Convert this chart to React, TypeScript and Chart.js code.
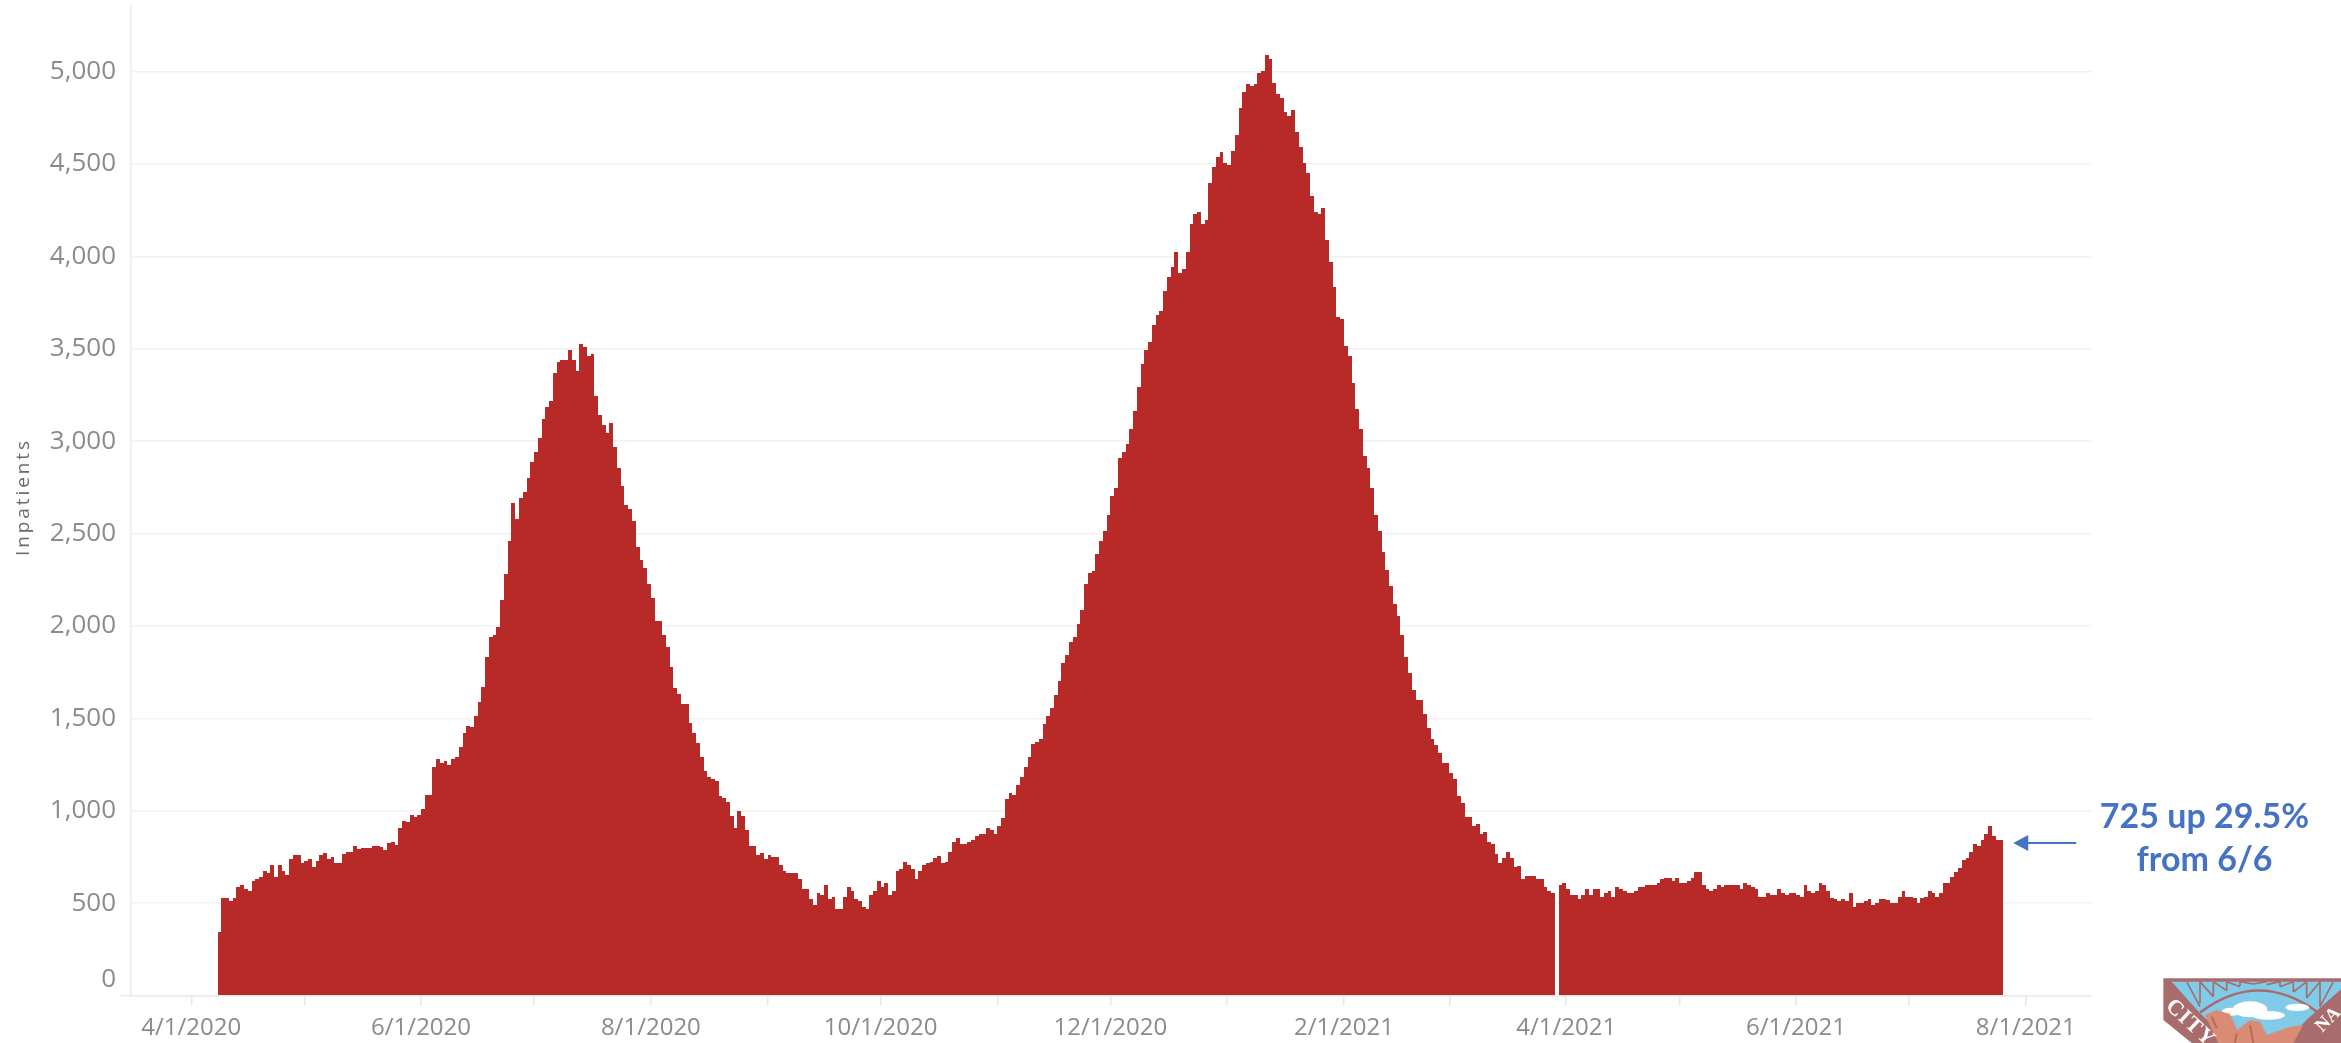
import React, { useEffect, useRef } from "react";
import { Chart, registerables } from "chart.js";

Chart.register(...registerables);

const FIRST_BAR_DAY = 7; // days after 4/1/2020

const springPlateau = [342,526,526,510,526,585,596,578,567,618,629,640,672,661,705,640,705,672,650,737,759,759,715,726,737,694,726,759,770,737,748,715,715,765,776,776,809,791,798,798,798,809,809,803,787,824,830,815,905,946,939,978,967,978,1011,1087,1087];
const summerRise = [1235,1278,1260,1267,1247,1278,1289,1343,1419,1460,1451,1512,1586,1671,1833,1938,1949,1992,2140,2279,2461,2663,2577,2694,2726,2802,2885,2939,3015,3119,3184,3217,3367,3430,3441,3441];
const summerFall = [3493,3441,3378,3525,3508,3462,3473,3246,3141,3087,3046,3098,2970,2854,2759,2652,2631,2566,2429,2355,2311,2227,2149,2025,2025,1949,1886,1779,1662,1630,1577,1577,1473,1419,1365,1289,1215,1184,1173,1161,1078,1067,1045,970,906,1000,970,896,811,811];
const autumnTrough = [759,770,737,759,748,748,705,672,661,661,661,629,576,576,524,491,555,544,598,524,535,470,470,533,587,565,524,513,480,470,544,565,620,587,607,544,565,672,683,724,705,683,629,672,705,715,724,746,756,715,724,778,830,852,821,821,830,841,863,874,874,906,896,874,917,959];
const winterRise = [1063,1097,1087,1139,1184,1235,1289,1363,1374,1386,1469,1512,1556,1628,1703,1799,1843,1915,1938,2012,2088,2225,2288,2299,2387,2461,2514,2598,2705,2748,2907,2939,2983,3067,3163,3291,3419,3493,3536,3630,3684,3706,3812,3886,3940,4025,3908,3930,4025,4173,4227,4238,4175,4197,4398,4483,4537,4566,4507,4496,4568,4655,4802,4887,4930,4919,4931,4994,5005,5089];
const winterFall = [5068,4940,4876,4855,4781,4760,4792,4674,4590,4503,4449,4325,4238,4227,4260,4088,3971,3834,3673,3662,3515,3461,3313,3174,3067,2918,2854,2748,2598,2514,2398,2301,2214,2118,2055,1949,1832,1747,1651,1599,1599,1523,1449,1386,1354,1310,1256,1256,1204,1172,1078,1043,968,968,917,928,874,885,831,820,766,715,746,778,746,694,702,630,648,648,648,630,630,589,567,553,null];
const lateSpring = [596,607,574,542,542,524,542,574,544,574,574,533,553,564,533,585,574,564,553,553,564,585,585,596,596,596,607,628,638,638,618,638,609,609,618,638,670,670,596,574,564,574,596,585,596,596,596,596,574,607,596,585,574,533,533,553,542,542,574,553,542,553,553,542,533,596,564,553,564,607,596,564,527,520,511,522,511,553,481,500,500,511,522,490,500,522,522,517,500,500,533,564,533,533,527,500,527,533,564,553,533,553,607,607,639,670,692,733,746,778,820,811,841,874,915,863,841,841];

const inpatients: (number | null)[] = [...springPlateau, ...summerRise, ...summerFall, ...autumnTrough, ...winterRise, ...winterFall, ...lateSpring];

const monthTicks = ["4/1/2020","5/1/2020","6/1/2020","7/1/2020","8/1/2020","9/1/2020","10/1/2020","11/1/2020","12/1/2020","1/1/2021","2/1/2021","3/1/2021","4/1/2021","5/1/2021","6/1/2021","7/1/2021","8/1/2021"];
const labelledTicks = ["4/1/2020","6/1/2020","8/1/2020","10/1/2020","12/1/2020","2/1/2021","4/1/2021","6/1/2021","8/1/2021"];
const yTickValues = [0,500,1000,1500,2000,2500,3000,3500,4000,4500,5000];
const ZERO_LABEL_AT = 85; // Tableau lifts its "0" label above the baseline
const calloutLines = ["725 up 29.5%", "from 6/6"];
const yTitle = "Inpatients";

const dayOf = (s: string) => {
  const [m, d, y] = s.split("/").map(Number);
  return Math.round((Date.UTC(y, m - 1, d) - Date.UTC(2020, 3, 1)) / 86400000);
};

const labelByDay = new Map(monthTicks.map((t) => [dayOf(t), labelledTicks.includes(t) ? t : ""]));
const GRID = "#f1f1f1";
const AXIS = "#ebebeb";
const TEXT = "#8b8b8b";
const LAST_DAY = FIRST_BAR_DAY + inpatients.length - 1;

// Daily bars have a fractional width; snap them to whole pixels so neighbours meet without seams.
const snapBars = {
  id: "snapBars",
  afterDatasetsUpdate(chart: any) {
    const meta = chart.getDatasetMeta(0);
    const x = chart.scales.x;
    meta.data.forEach((el: any, i: number) => {
      const left = Math.round(x.getPixelForValue(FIRST_BAR_DAY + i));
      const right = Math.round(x.getPixelForValue(FIRST_BAR_DAY + i + 1));
      el.x = (left + right) / 2;
      el.width = right - left;
      if (el.y != null && !Number.isNaN(el.y)) {
        el.y = Math.round(el.y);
        el.base = Math.round(el.base + 0.01);
        el.height = el.base - el.y;
      }
    });
  },
};

const annotations = {
  id: "annotations",
  afterDraw(chart: any) {
    const { ctx, scales } = chart;
    ctx.save();
    // rotated axis title, widely tracked like the reference
    ctx.save();
    ctx.translate(24, 497);
    ctx.rotate(-Math.PI / 2);
    ctx.font = "19px 'Open Sans'";
    (ctx as any).letterSpacing = "2.9px";
    ctx.fillStyle = "#6a6a6a";
    ctx.textAlign = "center";
    ctx.textBaseline = "middle";
    ctx.fillText(yTitle, 0, 0);
    ctx.restore();

    // callout
    const tip = scales.x.getPixelForValue(LAST_DAY + 1) + 10;
    const ay = scales.y.getPixelForValue(inpatients[inpatients.length - 1] as number) + 3;
    ctx.strokeStyle = "#4472c4";
    ctx.fillStyle = "#4472c4";
    ctx.lineWidth = 2;
    ctx.beginPath();
    ctx.moveTo(tip + 10, ay);
    ctx.lineTo(tip + 63, ay);
    ctx.stroke();
    ctx.beginPath();
    ctx.moveTo(tip, ay);
    ctx.lineTo(tip + 15, ay - 8);
    ctx.lineTo(tip + 15, ay + 8);
    ctx.closePath();
    ctx.fill();

    ctx.font = "bold 34px Lato";
    ctx.textAlign = "center";
    ctx.textBaseline = "middle";
    ctx.fillText(calloutLines[0], 2204.5, 817);
    ctx.fillText(calloutLines[1], 2204.5, 860);
    ctx.restore();
  },
};

function Logo() {
  const brown = "#a96c6c";
  return (
    <svg
      viewBox="0 0 573 219"
      width={191}
      height={73}
      style={{ position: "absolute", left: 2150, top: 970, overflow: "hidden" }}
    >
      <polygon points="40,25 573,25 573,219 125,219 40,150" fill={brown} />
      <polygon points="65,35 573,35 573,58 480,140 400,219 245,219 150,130" fill="#7fcbe8" />
      <path d="M150,128 Q325,-5 505,128" fill="none" stroke={brown} strokeWidth={8} />
      <path
        d="M110,35 L150,110 M150,35 L150,100 M150,35 L190,80 M190,35 L190,80 M190,35 L230,62 M230,35 L230,62 M230,35 L270,50 M270,35 L270,48 M270,35 L310,42 M350,35 L310,42 M390,35 L350,44 M390,35 L390,50 M430,35 L390,50 M430,35 L430,66 M470,35 L430,66 M470,35 L470,84 M510,35 L470,84 M510,35 L510,110 M550,35 L510,110"
        fill="none"
        stroke={brown}
        strokeWidth={5}
      />
      <g fill="#ffffff">
        <ellipse cx="300" cy="118" rx="52" ry="24" />
        <ellipse cx="245" cy="125" rx="30" ry="12" />
        <ellipse cx="355" cy="136" rx="50" ry="13" />
        <ellipse cx="442" cy="112" rx="36" ry="11" />
      </g>
      <polygon
        points="165,135 200,120 240,132 262,180 300,150 330,155 350,195 420,170 460,165 430,219 205,219"
        fill="#d98b73"
      />
      <path d="M185,140 L200,175 M260,190 L255,219 M300,165 L310,219" stroke="#b56c5b" strokeWidth={6} fill="none" />
      <text
        transform="translate(44,112) rotate(43)"
        fontFamily="'Liberation Serif'"
        fontWeight={700}
        fontSize={66}
        letterSpacing={3}
        fill="#ffffff"
      >
        CITY
      </text>
      <text
        transform="translate(545,160) rotate(-45)"
        fontFamily="'Liberation Serif'"
        fontWeight={700}
        fontSize={56}
        textAnchor="middle"
        fill="#ffffff"
      >
        NA
      </text>
    </svg>
  );
}

export default function App() {
  const ref = useRef<HTMLCanvasElement>(null);

  useEffect(() => {
    const chart = new Chart(ref.current as HTMLCanvasElement, {
      type: "bar",
      data: {
        datasets: [
          {
            data: inpatients.map((y, i) => ({ x: FIRST_BAR_DAY + i + 0.5, y })),
            backgroundColor: "#b72a28",
            borderWidth: 0,
            inflateAmount: 0,
            barPercentage: 1,
            categoryPercentage: 1,
          },
        ],
      },
      options: {
        animation: false,
        responsive: false,
        layout: { padding: { top: 5, right: 250, left: 0, bottom: 0 } },
        plugins: { legend: { display: false }, tooltip: { enabled: false } },
        scales: {
          x: {
            type: "linear",
            offset: false,
            min: -16,
            max: 504.3,
            afterFit(s: any) {
              s.height = 47.5;
              s.paddingLeft = 0;
              s.paddingRight = 0;
            },
            afterBuildTicks(s: any) {
              s.ticks = monthTicks.map((t) => ({ value: dayOf(t) }));
            },
            grid: { offset: false, drawOnChartArea: false, tickLength: 10, tickColor: "#e6e6e6", lineWidth: 1.5 },
            border: { color: AXIS, width: 1.5 },
            ticks: {
              autoSkip: false,
              maxRotation: 0,
              minRotation: 0,
              padding: 8,
              color: TEXT,
              font: { family: "'Open Sans'", size: 24 },
              callback: (v: any) => labelByDay.get(Number(v)) ?? "",
            },
          },
          y: {
            min: 0,
            max: 5360,
            afterFit(s: any) {
              s.width = 131;
              s.paddingTop = 0;
              s.paddingBottom = 0;
            },
            afterBuildTicks(s: any) {
              s.ticks = [...yTickValues, ZERO_LABEL_AT].map((value) => ({ value }));
            },
            grid: {
              lineWidth: 1.5,
              tickLength: 11,
              color: (c: any) => (c.tick.value === ZERO_LABEL_AT ? "rgba(0,0,0,0)" : c.tick.value === 0 ? AXIS : GRID),
              tickColor: (c: any) => (c.tick.value === 0 ? AXIS : "rgba(0,0,0,0)"),
            },
            border: { color: AXIS, width: 1.5 },
            ticks: {
              autoSkip: false,
              padding: 4,
              color: TEXT,
              font: { family: "'Open Sans'", size: 26 },
              callback: (v: any) => {
                const n = Number(v);
                if (n === 0) return "";
                if (n === ZERO_LABEL_AT) return "0";
                return n.toLocaleString("en-US");
              },
            },
          },
        },
      },
      plugins: [snapBars, annotations],
    } as any);
    return () => chart.destroy();
  }, []);

  return (
    <div style={{ position: "absolute", left: 0, top: 0, width: 2341, height: 1043, overflow: "hidden", background: "#fff" }}>
      <canvas ref={ref} width={2341} height={1043} style={{ display: "block" }} />
      <Logo />
    </div>
  );
}
